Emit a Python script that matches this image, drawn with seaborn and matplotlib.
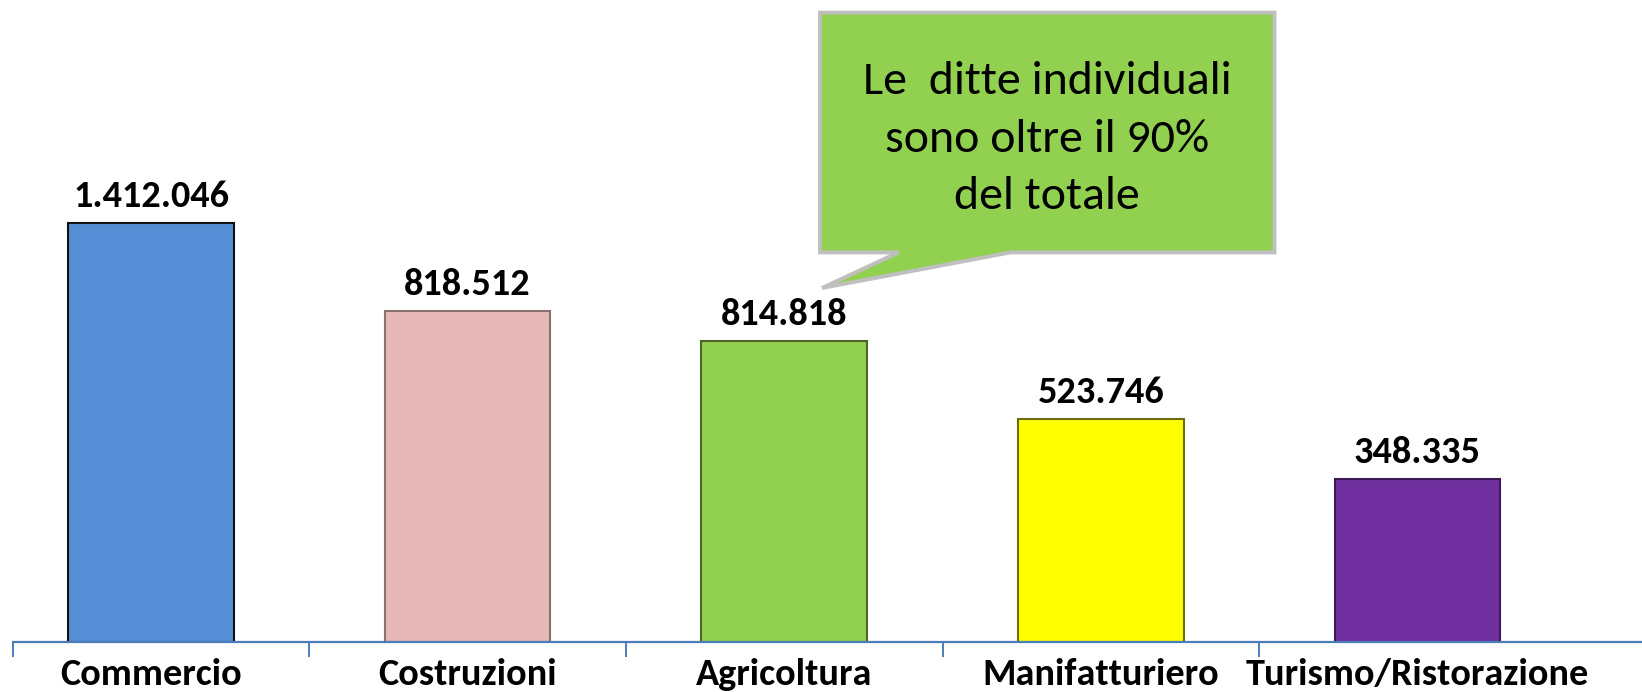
import matplotlib
matplotlib.use("Agg")
import matplotlib.pyplot as plt
import seaborn as sns
import pandas as pd
from matplotlib.patches import Polygon

# ---- data ----
categories = ["Commercio", "Costruzioni", "Agricoltura", "Manifatturiero", "Turismo/Ristorazione"]
values = [1412046, 818512, 814818, 523746, 348335]          # printed labels
# bar heights as drawn in the reference (the drawing is not proportional to the labels)
bar_heights = [419, 331, 301, 223, 163]
bar_colors = ["#558ED5", "#E6B9B8", "#92D050", "#FFFF00", "#7030A0"]
edge_colors = ["#111111", "#8a7272", "#4f6228", "#6b6b10", "#3c1a57"]
callout_lines = ["Le  ditte individuali", "sono oltre il 90%", "del totale"]

sns.set_theme(style="white")
plt.rcParams["font.family"] = ["Carlito", "DejaVu Sans"]

W, H = 1642, 692
fig = plt.figure(figsize=(W / 100, H / 100), dpi=100)
fig.patch.set_facecolor("white")

base_px = 642
ax_left = 12.6 / W
ax = fig.add_axes([ax_left, (H - base_px) / H, 1 - ax_left, base_px / H])
ax.set_facecolor("none")

df = pd.DataFrame({"cat": categories, "h": bar_heights})
sns.barplot(data=df, x="cat", y="h", hue="cat", palette=bar_colors, legend=False,
            width=0.523, saturation=1, linewidth=1.5, ax=ax)

for patch, ec in zip(ax.patches, edge_colors):
    patch.set_edgecolor(ec)

xl = (-0.437, 4.709)
ax.set_xlim(*xl)
ax.set_ylim(0, base_px)

def fmt(v):
    return f"{v:,}".replace(",", ".")

for cont, v in zip(ax.containers, values):
    ax.bar_label(cont, labels=[fmt(v)], padding=7.5, fontsize=27.5, fontweight="bold", color="black")

for s in ["left", "right", "top"]:
    ax.spines[s].set_visible(False)
ax.spines["bottom"].set_color("#4A7EBB")
ax.spines["bottom"].set_linewidth(1.6)

ax.set_yticks([])
ax.set_xlabel("")
ax.set_ylabel("")
ax.set_xticks(range(len(categories)))
ax.set_xticklabels(categories, fontsize=27.5, fontweight="bold", color="black")
ax.set_xticks([xl[0] + 0.002, 0.5, 1.5, 2.5, 3.5], minor=True)
ax.tick_params(axis="x", which="major", length=0, pad=11.5, bottom=True)
ax.tick_params(axis="x", which="minor", length=11, width=1.4, color="#4A7EBB", bottom=True, direction="out")

# ---- callout box ----
def fp(x, y):
    return (x / W, 1 - y / H)

pts = [fp(820, 12.6), fp(1274.5, 12.6), fp(1274.5, 252.4), fp(1010.5, 252.4),
       fp(822, 288), fp(898.5, 252.4), fp(820, 252.4)]
poly = Polygon(pts, closed=True, transform=fig.transFigure, facecolor="#92D050",
               edgecolor="#BFBFBF", linewidth=2.8, joinstyle="miter")
fig.add_artist(poly)

for i, line in enumerate(callout_lines):
    fig.text(1047 / W, 1 - (81.7 + 57.6 * i) / H, line, ha="center", va="center",
             fontsize=34.5, color="black")

fig.savefig("out.png", dpi=100)
